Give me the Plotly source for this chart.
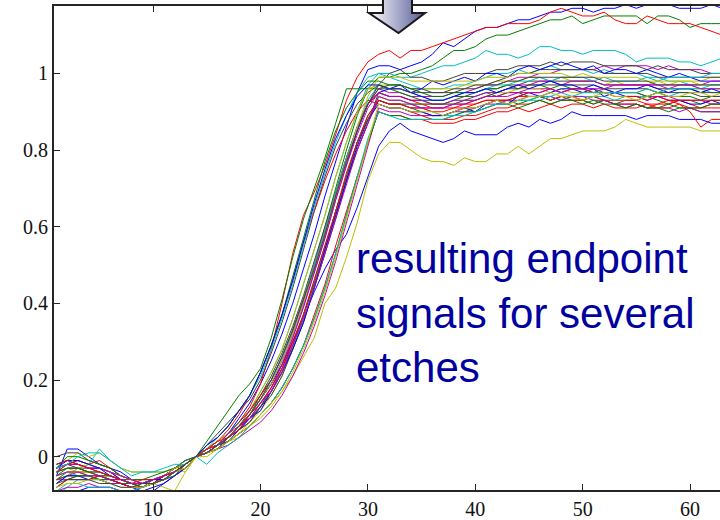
import base64
import plotly.graph_objects as go

# sample index (time step) of the endpoint traces
x_samples = list(range(1, 64))

# normalized endpoint signals, in hundredths of the reference level
B1 = [-5,2,2,0,-2,-3,-4,-6,-7,-6,-5,-4,-2,0,
      2,4,6,10,14,19,25,32,40,49,58,68,77,86,95,101,
      102,102,101,102,103,105,108,107,109,111,112,112,113,114,114,115,116,116,117,117,116,117,117,118,117,118,119,118,117,117,117,118,117]
G1 = [-4,-2,-1,-2,-3,-4,-5,-6,-7,-7,-5,-3,-2,0,
      2,3,5,8,11,16,20,26,33,41,50,60,70,80,89,96,
      99,99,100,100,101,102,104,106,106,107,109,110,110,111,112,113,114,114,115,113,114,115,115,115,115,113,115,115,114,112,113,113,113]
R1 = [-4,-2,-2,-3,-3,-4,-6,-7,-8,-7,-5,-3,-1,0,
      2,4,6,9,13,19,28,40,53,63,69,76,84,93,99,103,
      105,106,104,106,106,107,108,109,110,111,112,112,113,113,113,114,116,117,116,115,115,116,114,113,113,115,114,113,113,113,112,111,110]
C1 = [-7,-5,-3,-2,2,-1,-3,-4,-4,-4,-4,-3,-2,0,
      2,4,6,9,12,17,22,28,36,45,54,63,73,82,90,97,
      100,100,99,99,100,101,102,102,103,104,106,105,105,104,105,107,107,106,106,105,106,106,106,105,103,104,104,104,103,103,102,103,104]
M1 = [-4,-3,-3,-4,-4,-5,-6,-7,-7,-7,-5,-4,-2,0,
      1,3,5,7,11,15,19,24,31,39,48,57,67,76,85,92,
      96,95,95,94,94,94,94,95,95,96,97,97,98,99,99,100,100,101,101,101,101,102,101,102,102,102,101,102,101,101,101,100,100]
Y1 = [-2,-1,1,0,1,-1,-3,-4,-4,-4,-4,-3,-4,0,
      1,3,4,5,8,10,13,17,21,26,31,40,44,52,61,72,
      79,82,82,80,78,77,77,76,78,77,77,79,79,81,79,81,83,83,84,85,85,85,86,88,87,86,86,86,86,86,85,85,85]
K1 = [0,1,1,-1,-2,-3,-5,-6,-7,-6,-5,-3,-2,0,
      3,6,9,12,15,20,27,35,44,54,64,73,81,87,92,95,
      97,100,101,99,99,98,98,99,100,100,100,101,101,102,102,102,103,102,103,103,103,102,102,102,102,101,102,101,101,101,100,100,100]

B2 = [-11,-10,-9,-8,-8,-8,-9,-10,-10,-9,-7,-5,-3,0,
      2,3,5,8,11,15,19,24,30,36,43,49,54,58,65,73,
      81,85,87,85,84,83,82,83,85,84,84,84,86,87,86,88,87,88,90,89,89,89,89,89,88,89,89,89,88,88,88,87,87]
G2 = [-6,-4,-4,-5,-6,-7,-7,-8,-8,-6,-5,-3,-2,0,
      4,8,12,16,19,23,31,41,52,62,70,78,87,96,96,96,
      96,96,95,94,93,92,92,93,94,94,95,94,95,95,94,94,93,94,93,93,94,93,92,93,93,94,93,92,93,93,92,93,93]
R2 = [-3,-2,-1,-2,-1,-3,-5,-6,-7,-6,-5,-3,-2,0,
      2,4,7,11,16,22,29,37,46,56,64,72,79,85,90,93,
      92,91,91,90,89,88,88,88,89,89,90,91,91,92,92,93,92,93,93,93,92,93,92,92,92,91,92,92,93,92,91,91,91]
C2 = [-10,-8,-6,-6,-6,-7,-7,-8,-7,-6,-5,-3,-1,0,
      2,5,8,12,16,21,28,36,45,55,65,74,82,89,95,99,
      100,99,98,97,96,96,96,97,97,98,99,100,100,101,100,101,102,101,101,101,100,101,100,100,100,99,99,98,98,97,96,95,95]
M2 = [-6,-6,-5,-5,-6,-7,-7,-8,-8,-7,-6,-4,-2,0,
      1,3,5,7,9,13,18,23,29,37,45,53,63,72,80,87,
      93,92,92,91,91,91,91,92,92,93,94,94,95,95,96,96,96,95,96,96,96,95,95,95,95,94,94,94,93,93,93,92,92]
Y2 = [-4,-3,-4,-4,-5,-5,-6,-7,-7,-6,-5,-4,-2,0,
      2,4,6,9,12,17,22,28,36,45,54,63,73,82,90,96,
      97,97,97,96,96,96,96,96,97,97,97,98,98,98,99,99,98,99,98,98,98,97,98,97,97,97,98,97,98,98,98,99,99]
K2 = [-3,-2,-3,-3,-4,-5,-6,-6,-6,-6,-5,-3,-2,0,
      2,3,6,9,12,16,21,27,34,42,51,60,69,78,86,92,
      96,97,97,96,96,95,95,96,96,97,97,98,99,100,100,101,101,101,101,101,101,100,100,100,100,100,99,99,99,99,99,99,99]

B3 = [-3,-1,-2,-3,-3,-4,-6,-7,-8,-7,-5,-4,-2,0,
      2,3,5,8,11,15,19,25,32,40,49,58,68,77,85,92,
      95,96,97,95,96,98,97,98,99,98,100,100,99,101,102,101,102,103,102,101,102,100,101,101,100,101,100,99,100,99,98,98,98]
G3 = [-3,0,0,-1,-2,-3,-5,-6,-6,-5,-4,-3,-1,0,
      1,3,5,8,10,13,17,22,29,37,45,54,64,73,82,89,
      93,92,92,91,90,89,89,90,91,91,92,93,93,92,93,94,93,94,94,93,92,93,92,91,92,91,91,90,91,91,90,90,90]
R3 = [-6,-5,-4,-4,-5,-6,-6,-7,-8,-7,-6,-4,-2,0,
      2,4,5,8,12,16,20,26,33,41,50,59,69,78,86,92,
      95,94,94,93,92,91,91,91,92,92,93,93,93,94,94,94,93,94,94,93,94,93,93,93,93,92,92,93,92,90,86,88,88]
C3 = [-5,-4,-5,-5,-6,-6,-7,-7,-7,-6,-5,-4,-2,0,
      1,2,5,8,10,14,17,22,28,36,44,54,64,73,82,88,
      94,93,93,92,91,90,89,89,90,90,91,92,92,93,93,93,94,93,94,94,94,94,93,94,94,94,95,94,95,95,95,96,96]
M3 = [-9,-8,-8,-7,-8,-8,-9,-9,-8,-7,-6,-5,-3,0,
      1,2,3,5,7,9,12,16,21,27,34,42,51,61,71,81,
      91,90,90,89,89,89,89,90,90,91,92,92,93,93,94,94,94,93,94,94,93,93,92,92,92,91,91,91,90,91,90,90,90]
Y3 = [-6,-5,-3,-2,-3,-4,-5,-6,-7,-7,-8,-9,-4,0,
      0,2,4,6,9,12,16,21,28,35,44,53,63,73,81,88,
      94,93,93,92,92,92,92,92,93,93,94,95,95,96,96,96,95,96,95,95,95,95,95,95,95,96,95,96,96,96,96,96,96]
K3 = [-6,-5,-5,-5,-5,-6,-7,-8,-8,-7,-5,-4,-2,0,
      2,3,5,7,10,13,16,21,28,35,44,53,62,72,80,87,
      95,94,94,93,93,93,93,94,94,95,96,96,97,97,98,98,98,98,98,98,98,97,97,97,97,97,96,96,96,96,95,95,95]

B4 = [-7,-5,-5,-6,-5,-6,-7,-8,-9,-8,-7,-5,-3,0,
      1,3,4,7,10,12,17,22,28,35,44,54,63,72,81,88,
      92,91,91,90,90,89,89,90,91,90,92,93,92,94,95,94,95,96,96,95,96,94,95,94,94,93,94,93,93,92,92,93,92]
G4 = [-8,-6,-5,-5,-6,-6,-7,-7,-8,-7,-6,-4,-3,0,
      3,5,8,12,16,22,29,37,47,57,67,77,85,91,95,98,
      98,97,97,96,95,94,94,95,95,95,96,96,97,96,97,97,96,97,96,96,95,96,95,95,95,94,95,94,94,94,93,94,94]
R4 = [-8,-6,-6,-6,-5,-6,-7,-8,-8,-7,-5,-4,-2,0,
      1,2,4,6,8,11,14,18,23,29,37,45,55,64,73,82,
      90,89,89,88,88,87,87,87,88,88,89,90,90,91,90,91,92,91,92,92,91,92,91,91,91,92,91,91,92,91,91,92,92]
C4 = [-9,-7,-7,-8,-8,-8,-9,-9,-8,-7,-6,-4,-2,0,
      2,3,5,8,11,15,20,26,33,41,50,59,69,78,86,93,
      97,96,96,95,94,93,93,94,95,95,96,97,97,98,98,99,98,99,99,99,98,99,98,98,98,99,98,99,99,99,99,100,100]
M4 = [-3,-2,-2,-3,-3,-4,-5,-6,-7,-6,-5,-3,-2,0,
      2,3,5,8,10,14,18,24,31,39,48,57,67,76,84,91,
      95,94,94,93,93,92,92,93,93,94,95,95,96,97,97,98,98,97,98,98,98,97,97,97,97,97,97,96,97,97,97,98,98]
Y4 = [-5,-4,-4,-4,-5,-5,-6,-7,-7,-6,-5,-3,-2,0,
      2,3,5,8,11,15,19,25,32,40,49,58,68,77,86,94,
      99,99,99,98,98,98,98,98,98,98,99,99,99,100,100,100,100,100,99,100,99,99,99,99,99,98,98,98,98,98,97,97,97]
K4 = [-4,-3,-3,-4,-5,-5,-6,-7,-7,-6,-5,-4,-2,0,
      1,2,5,7,9,13,17,23,30,37,46,55,64,73,82,88,
      93,92,92,92,92,92,92,92,93,93,94,95,96,96,97,97,97,97,97,97,97,96,96,96,96,96,95,95,95,95,94,94,94]

B5 = [-2,-1,-1,-2,-3,-5,-6,-7,-7,-6,-6,-4,-2,0,
      3,5,8,12,16,22,29,37,46,56,66,75,83,89,94,97,
      97,96,96,95,94,93,93,94,95,95,96,95,96,97,96,97,98,97,97,96,97,96,95,96,96,97,96,95,96,96,95,96,95]
G5 = [-5,-3,-3,-4,-4,-5,-6,-7,-7,-7,-6,-5,-2,0,
      1,2,4,6,8,11,14,18,23,29,36,44,53,63,73,82,
      90,89,89,88,88,88,88,89,90,90,91,92,92,91,92,93,92,93,93,92,93,92,92,91,92,91,91,92,91,91,91,92,92]
R5 = [-2,-1,-2,-3,-4,-5,-6,-7,-6,-6,-5,-4,-2,0,
      2,3,5,7,11,14,18,23,30,37,46,55,64,74,82,89,
      93,92,92,91,91,90,90,91,91,92,93,93,93,94,95,95,96,95,96,96,95,95,94,94,94,93,94,93,93,93,93,93,93]
C5 = [-3,-2,0,1,1,-1,-3,-5,-4,-4,-3,-2,-2,0,
      -2,1,3,5,8,11,14,18,23,29,36,44,53,63,73,83,
      90,89,88,88,88,88,88,89,89,90,91,92,92,93,93,94,94,95,94,95,95,95,95,95,95,96,95,96,96,96,96,97,97]
M5 = [-5,-4,-4,-5,-5,-6,-6,-7,-7,-6,-5,-4,-2,0,
      1,3,6,8,10,14,17,22,29,36,44,53,62,71,80,87,
      94,93,93,92,91,91,91,92,92,93,94,94,94,95,95,95,96,95,96,96,96,96,97,97,97,97,97,97,97,97,96,96,96]
Y5 = [-8,-7,-7,-6,-6,-7,-8,-8,-8,-7,-6,-4,-3,0,
      1,2,4,6,8,11,14,17,22,28,35,43,52,62,72,82,
      92,91,91,90,90,90,89,90,91,91,92,93,92,93,94,94,95,94,94,93,94,95,94,94,93,94,95,94,94,95,95,94,95]
K5 = [-7,-6,-6,-6,-7,-7,-8,-8,-7,-7,-6,-4,-2,0,
      1,3,5,8,11,15,20,26,33,41,49,58,68,77,85,92,
      97,96,96,95,95,95,95,95,96,96,97,97,98,98,99,99,99,99,99,99,99,98,98,98,98,98,97,97,97,97,97,97,97]

# plotting order follows the default MATLAB colour cycle b, g, r, c, m, y, k
signals = [B1, G1, R1, C1, M1, Y1, K1,
           B2, G2, R2, C2, M2, Y2, K2,
           B3, G3, R3, C3, M3, Y3, K3,
           B4, G4, R4, C4, M4, Y4, K4,
           B5, G5, R5, C5, M5, Y5, K5]
color_cycle = ["rgb(0,0,255)", "rgb(0,128,0)", "rgb(255,0,0)", "rgb(0,191,191)",
               "rgb(191,0,191)", "rgb(191,191,0)", "rgb(64,64,64)"]

x_tick_values = [10, 20, 30, 40, 50, 60]
y_tick_values = [0, 0.2, 0.4, 0.6, 0.8, 1]
y_tick_labels = ["0", "0.2", "0.4", "0.6", "0.8", "1"]

fig = go.Figure()
for i, s in enumerate(signals):
    fig.add_trace(go.Scatter(
        x=x_samples[:len(s)], y=[v / 100 for v in s], mode="lines",
        line=dict(color=color_cycle[i % 7], width=1),
        hoverinfo="skip", showlegend=False))

axis_color = "#262626"
tick_font = dict(family="Liberation Serif, Times New Roman, serif", size=20, color="#111111")
fig.update_xaxes(range=[0.77, 62.79], tickvals=x_tick_values, ticks="inside", ticklen=6,
                 tickwidth=1, tickcolor=axis_color, showline=True, linewidth=2,
                 linecolor=axis_color, mirror="ticks", showgrid=False, zeroline=False,
                 tickfont=tick_font)
fig.update_yaxes(range=[-0.087, 1.176], tickvals=y_tick_values, ticktext=y_tick_labels,
                 ticks="inside", ticklen=6, tickwidth=1, tickcolor=axis_color,
                 showline=True, linewidth=2, linecolor=axis_color, mirror=False,
                 showgrid=False, zeroline=False, tickfont=tick_font)

# gradient block arrow (decoration)
arrow_svg = (
    '<svg xmlns="http://www.w3.org/2000/svg" width="62" height="38" viewBox="0 0 62 38">'
    '<defs><linearGradient id="g" x1="0" y1="0" x2="1" y2="0">'
    '<stop offset="0" stop-color="#ffffff"/><stop offset="1" stop-color="#555a96"/>'
    '</linearGradient></defs>'
    '<polygon points="17,0 46,0 46,15 59,15 32.5,35 3,15 17,15" fill="url(#g)" '
    'stroke="#1a1a1a" stroke-width="2" stroke-linejoin="miter"/></svg>')
arrow_src = "data:image/svg+xml;base64," + base64.b64encode(arrow_svg.encode()).decode()
fig.add_layout_image(dict(source=arrow_src, xref="paper", yref="paper",
                          x=(366 - 54) / 666, y=1 + 8 / 484, sizex=62 / 666, sizey=38 / 484,
                          xanchor="left", yanchor="top", sizing="stretch", layer="above"))

fig.add_annotation(text="resulting endpoint<br>signals for several<br>etches",
                   xref="paper", yref="paper", x=(354 - 54) / 666, y=1 - (233 - 6) / 484,
                   xanchor="left", yanchor="top", align="left", showarrow=False,
                   font=dict(family="Liberation Sans, Arial, sans-serif", size=42, color="#0000A0"))

fig.update_layout(width=720, height=520, margin=dict(l=54, r=0, t=6, b=30),
                  plot_bgcolor="white", paper_bgcolor="white")
fig.write_html("out.html", config={"displayModeBar": False},
               post_script="document.body.style.margin='0';")
